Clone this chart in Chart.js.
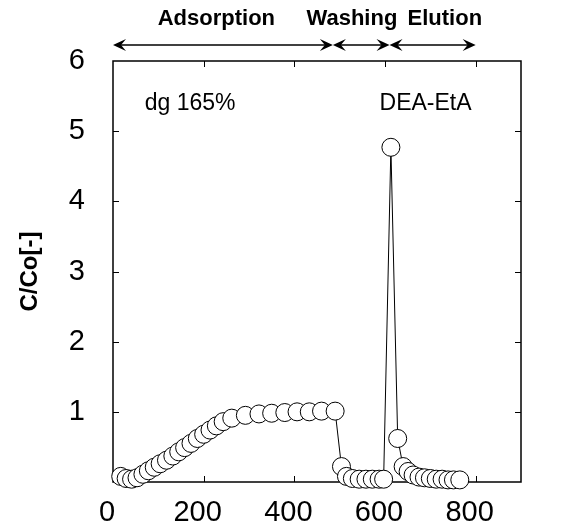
<!DOCTYPE html>
<html>
<head>
<meta charset="utf-8">
<title>C/Co - DEA-EtA</title>
<script src="https://cdn.jsdelivr.net/npm/chart.js@4.4.1/dist/chart.umd.min.js"></script>
<style>
  body { margin: 0; background: #fff; }
  #wrap { width: 568px; height: 529px; }
</style>
</head>
<body>
<div id="wrap"><canvas id="chart" width="568" height="529"></canvas></div>
<script>
// time and C/Co
const timeMin = [17, 29, 41, 53, 66, 78, 91, 104, 118, 132, 145, 158, 172, 186, 200, 214, 228, 243, 262,
  292, 322, 350, 379, 406, 433, 460, 490,
  504, 515, 528, 543, 558, 572, 587, 597,
  613, 628, 640, 651, 662, 675, 687, 700, 713, 726, 739, 751, 765];
const cRatio = [0.08, 0.05, 0.04, 0.06, 0.11, 0.16, 0.21, 0.26, 0.31, 0.37, 0.43, 0.49, 0.55, 0.62, 0.68, 0.74, 0.80, 0.86, 0.91,
  0.95, 0.97, 0.98, 0.99, 1.0, 1.0, 1.01, 1.01,
  0.22, 0.08, 0.05, 0.04, 0.04, 0.04, 0.04, 0.04,
  4.77, 0.62, 0.22, 0.15, 0.10, 0.07, 0.06, 0.05, 0.04, 0.04, 0.03, 0.03, 0.03];

const xTicks = [0, 200, 400, 600, 800];
const yTicks = [1, 2, 3, 4, 5, 6];

// process steps above the plot
const phaseNames = ['Adsorption', 'Washing', 'Elution'];
const phaseEdges = [0, 485, 610, 800];

const sampleLabel = 'dg 165%';
const ligandLabel = 'DEA-EtA';

const FONT = '"Liberation Sans", Arial, sans-serif';

function arrowHead(ctx, tipX, tipY, dir) {
  // dir = 1 points right, -1 points left
  ctx.beginPath();
  ctx.moveTo(tipX, tipY);
  ctx.lineTo(tipX - dir * 13, tipY - 6);
  ctx.lineTo(tipX - dir * 8, tipY);
  ctx.lineTo(tipX - dir * 13, tipY + 6);
  ctx.closePath();
  ctx.fill();
}

// frame, inward ticks, step arrows and the labels inside the box
const decorations = {
  id: 'decorations',
  beforeDatasetsDraw(chart) {
    const {ctx, chartArea: a, scales: {x, y}} = chart;
    ctx.save();
    ctx.strokeStyle = '#000';
    ctx.fillStyle = '#000';
    ctx.lineWidth = 1.5;
    ctx.strokeRect(a.left, a.top, a.right - a.left, a.bottom - a.top);

    ctx.lineWidth = 1;
    ctx.beginPath();
    xTicks.forEach(v => {
      if (v <= 0) return;
      const px = Math.round(x.getPixelForValue(v)) + 0.5;
      ctx.moveTo(px, a.bottom); ctx.lineTo(px, a.bottom - 6);
      ctx.moveTo(px, a.top); ctx.lineTo(px, a.top + 6);
    });
    yTicks.forEach(v => {
      if (v >= 6) return;
      const py = Math.round(y.getPixelForValue(v)) + 0.5;
      ctx.moveTo(a.left, py); ctx.lineTo(a.left + 6, py);
      ctx.moveTo(a.right, py); ctx.lineTo(a.right - 6, py);
    });
    ctx.stroke();

    // arrows for each step
    const ay = a.top - 16;
    ctx.lineWidth = 1.3;
    for (let i = 0; i < phaseNames.length; i++) {
      const x0 = x.getPixelForValue(phaseEdges[i]);
      const x1 = x.getPixelForValue(phaseEdges[i + 1]);
      ctx.beginPath();
      ctx.moveTo(x0 + 4, ay); ctx.lineTo(x1 - 4, ay);
      ctx.stroke();
      arrowHead(ctx, x0, ay, -1);
      arrowHead(ctx, x1, ay, 1);
    }

    ctx.font = 'bold 22px ' + FONT;
    ctx.textAlign = 'center';
    ctx.textBaseline = 'alphabetic';
    const labelAt = [228, 527, 732];
    phaseNames.forEach((name, i) => {
      ctx.fillText(name, x.getPixelForValue(labelAt[i]), 25);
    });

    ctx.font = '23px ' + FONT;
    ctx.textAlign = 'left';
    ctx.fillText(sampleLabel, x.getPixelForValue(70), y.getPixelForValue(5.3));
    ctx.fillText(ligandLabel, x.getPixelForValue(588), y.getPixelForValue(5.3));
    ctx.restore();
  }
};

const chart = new Chart(document.getElementById('chart'), {
  type: 'scatter',
  data: {
    datasets: [{
      data: timeMin.map((t, i) => ({x: t, y: cRatio[i]})),
      showLine: true,
      clip: false,
      borderColor: '#000',
      borderWidth: 1,
      pointRadius: 9,
      pointBorderWidth: 1,
      pointBackgroundColor: '#fff',
      pointBorderColor: '#000'
    }]
  },
  options: {
    responsive: false,
    animation: false,
    layout: { padding: { top: 61, right: 47, left: 0, bottom: 0 } },
    plugins: { legend: { display: false }, tooltip: { enabled: false } },
    scales: {
      x: {
        type: 'linear',
        min: 0,
        max: 900,
        grid: { display: false, drawTicks: false },
        border: { display: false },
        afterBuildTicks: scale => { scale.ticks = xTicks.map(v => ({value: v})); },
        afterFit: scale => { scale.height = 47; },
        ticks: { color: '#000', padding: 14, labelOffset: -6, font: { family: FONT, size: 29 } }
      },
      y: {
        min: 0,
        max: 6,
        grid: { display: false, drawTicks: false },
        border: { display: false },
        afterBuildTicks: scale => { scale.ticks = yTicks.map(v => ({value: v})); },
        afterFit: scale => { scale.width = 113; },
        ticks: { color: '#000', padding: 28, font: { family: FONT, size: 29 } },
        title: {
          display: true,
          text: 'C/Co[-]',
          color: '#000',
          padding: { top: 16 },
          font: { family: FONT, size: 24, weight: 'bold' }
        }
      }
    }
  },
  plugins: [decorations]
});
</script>
</body>
</html>
